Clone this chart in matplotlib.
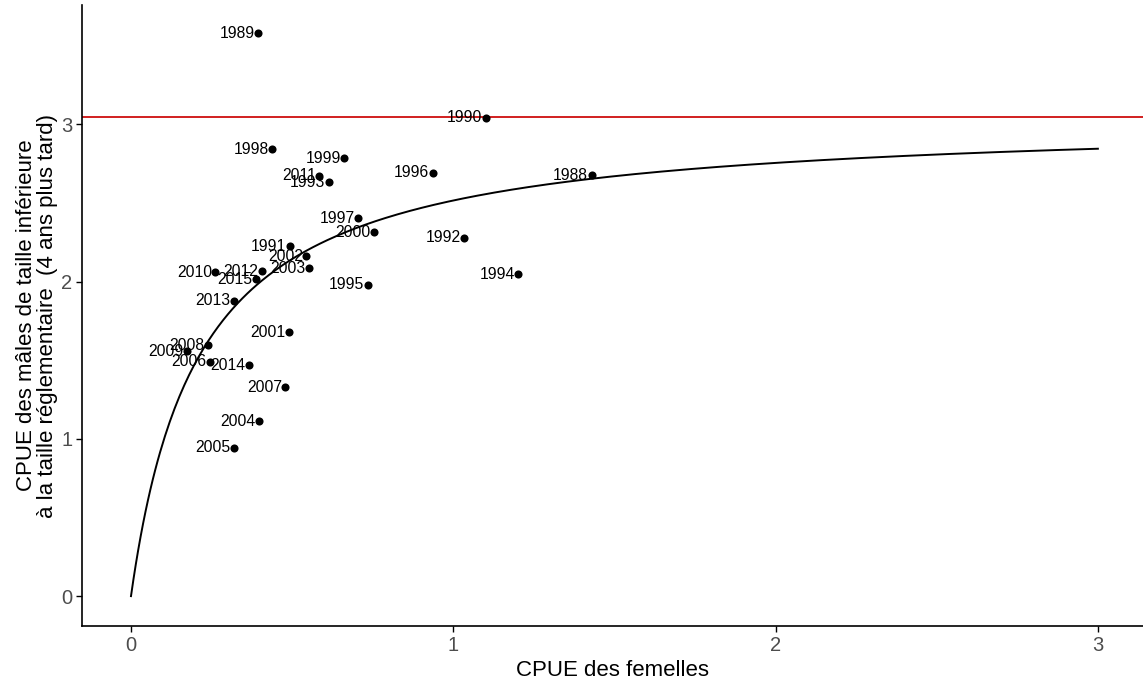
import numpy as np
import matplotlib
matplotlib.use("Agg")
import matplotlib.pyplot as plt

plt.rcParams['font.family'] = ['Liberation Sans', 'DejaVu Sans']

# Catches per unit effort by year
years = [1988, 1989, 1990, 1991, 1992, 1993, 1994, 1995, 1996, 1997,
         1998, 1999, 2000, 2001, 2002, 2003, 2004, 2005, 2006, 2007,
         2008, 2009, 2010, 2011, 2012, 2013, 2014, 2015]
cpue_femelles = [1.429, 0.395, 1.101, 0.492, 1.034, 0.614, 1.202, 0.735, 0.936, 0.705,
                 0.438, 0.662, 0.755, 0.491, 0.544, 0.552, 0.396, 0.320, 0.246, 0.479,
                 0.238, 0.173, 0.262, 0.584, 0.406, 0.320, 0.366, 0.388]
cpue_males = [2.678, 3.580, 3.043, 2.227, 2.280, 2.631, 2.047, 1.981, 2.693, 2.403,
              2.843, 2.786, 2.316, 1.680, 2.161, 2.085, 1.112, 0.943, 1.492, 1.330,
              1.597, 1.557, 2.061, 2.674, 2.066, 1.879, 1.470, 2.017]

# Beverton-Holt stock-recruitment parameters
bh_a = 3.045
bh_b = 0.21

fig = plt.figure(figsize=(11.43, 6.82), dpi=100)
ax = fig.add_axes([82 / 1143, 56 / 682, 1 - 82 / 1143, 1 - 56 / 682 - 5 / 682])

s = np.linspace(0, 3, 400)
ax.plot(s, bh_a * s / (bh_b + s), color='black', lw=1.4, zorder=2)
ax.axhline(bh_a, color='#D11F1F', lw=1.4, zorder=1)

ax.scatter(cpue_femelles, cpue_males, s=34, color='black', zorder=3, linewidths=0)
for yr, xv, yv in zip(years, cpue_femelles, cpue_males):
    ax.annotate(str(yr), (xv, yv), xytext=(-2.5, 0), textcoords='offset points',
                ha='right', va='center', fontsize=11.3, color='black', zorder=4)

ax.set_xlim(-0.152, 3.14)
ax.set_ylim(-0.19, 3.76)
ax.set_xticks([0, 1, 2, 3])
ax.set_yticks([0, 1, 2, 3])
for side in ['top', 'right']:
    ax.spines[side].set_visible(False)
for side in ['left', 'bottom']:
    ax.spines[side].set_linewidth(1.2)
ax.tick_params(axis='both', length=4, width=1.0, color='black', labelcolor='#4D4D4D',
               labelsize=14.5, pad=3)

ax.set_xlabel('CPUE des femelles', fontsize=16, labelpad=4)
ax.set_ylabel('CPUE des mâles de taille inférieure\nà la taille réglementaire  (4 ans plus tard)',
              fontsize=16, labelpad=2, linespacing=1.0)

fig.savefig('out.png', dpi=100)
